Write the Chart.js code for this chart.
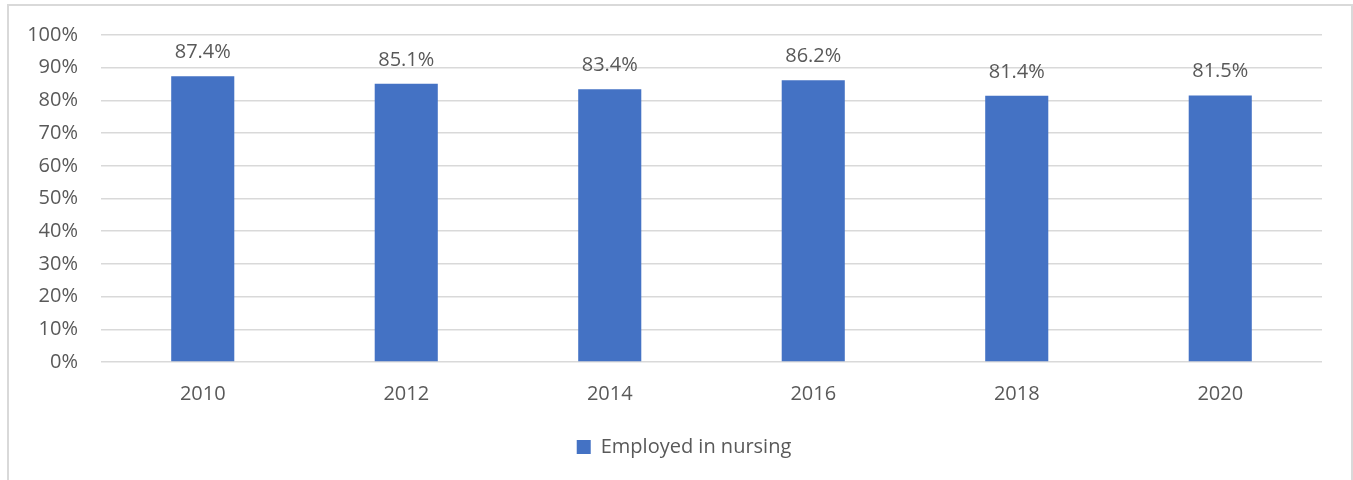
<!DOCTYPE html>
<html>
<head>
<meta charset="utf-8">
<script src="https://cdn.jsdelivr.net/npm/chart.js@4"></script>
<style>
  html, body { margin: 0; padding: 0; background: #ffffff; }
  #wrap { position: relative; width: 1353px; height: 480px; overflow: hidden; }
  #c { position: absolute; left: 0; top: 0; }
  #frame { position: absolute; left: 7px; top: 4px; width: 1342px; height: 600px;
           border: 2px solid #d9d9d9; pointer-events: none; box-sizing: content-box; }
</style>
</head>
<body>
<div id="wrap">
  <canvas id="c" width="1353" height="480"></canvas>
  <div id="frame"></div>
</div>
<script>
const categories = ['2010', '2012', '2014', '2016', '2018', '2020'];
const seriesName = 'Employed in nursing';
const employedInNursing = [87.4, 85.1, 83.4, 86.2, 81.4, 81.5];
const yTicks = [0, 10, 20, 30, 40, 50, 60, 70, 80, 90, 100];

const FONT = "'Open Sans', 'Noto Sans', sans-serif";
const TEXT = '#595959';

const valueLabels = {
  id: 'valueLabels',
  afterDatasetsDraw(chart) {
    const ctx = chart.ctx;
    const meta = chart.getDatasetMeta(0);
    ctx.save();
    ctx.font = '20px ' + FONT;
    ctx.fillStyle = TEXT;
    ctx.textAlign = 'center';
    ctx.textBaseline = 'alphabetic';
    meta.data.forEach((bar, i) => {
      ctx.fillText(employedInNursing[i].toFixed(1) + '%', bar.x, bar.y - 18);
    });
    ctx.restore();
  }
};

const legendShift = {
  id: 'legendShift',
  afterLayout(chart) {
    if (chart.legend) {
      chart.legend.left += 18;
      chart.legend.right += 18;
    }
  }
};

new Chart(document.getElementById('c'), {
  type: 'bar',
  data: {
    labels: categories,
    datasets: [{
      label: seriesName,
      data: employedInNursing,
      backgroundColor: '#4472C4',
      borderWidth: 0,
      categoryPercentage: 1,
      barPercentage: 0.31
    }]
  },
  options: {
    responsive: false,
    animation: false,
    devicePixelRatio: 1,
    layout: { padding: { left: 10, right: 31, top: 34, bottom: 13 } },
    plugins: {
      tooltip: { enabled: false },
      legend: {
        position: 'bottom',
        labels: {
          boxWidth: 14,
          boxHeight: 14,
          color: TEXT,
          font: { family: FONT, size: 20 },
          padding: 10
        }
      }
    },
    scales: {
      x: {
        grid: { display: false, drawTicks: false },
        border: { display: false },
        ticks: { color: TEXT, font: { family: FONT, size: 20 }, padding: 20 },
        afterFit(scale) { scale.height = 65; }
      },
      y: {
        min: 0,
        max: 100,
        afterBuildTicks(scale) { scale.ticks = yTicks.map(v => ({ value: v })); },
        grid: { color: '#d9d9d9', lineWidth: 1.5, drawTicks: false },
        border: { display: false },
        ticks: {
          color: TEXT,
          font: { family: FONT, size: 20 },
          padding: 23,
          callback: v => v + '%'
        },
        afterFit(scale) { scale.width = 91; }
      }
    }
  },
  plugins: [valueLabels, legendShift]
});
</script>
</body>
</html>
